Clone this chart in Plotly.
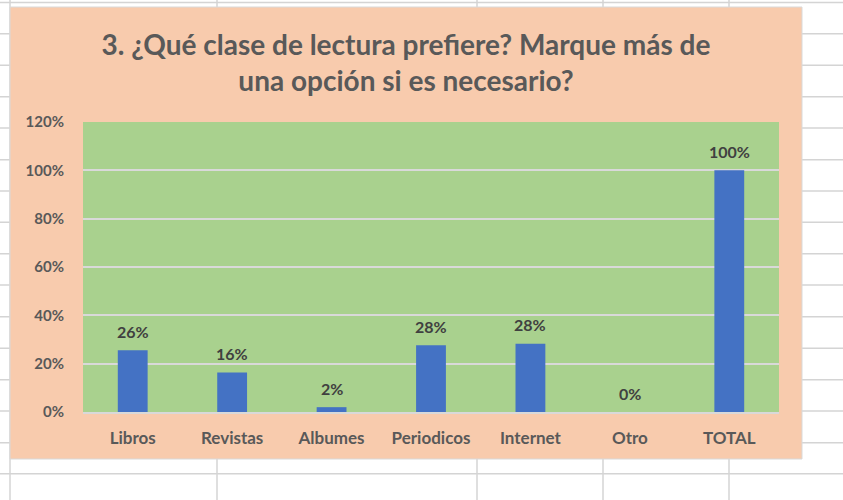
import plotly.graph_objects as go

# Data
categorias = ["Libros", "Revistas", "Albumes", "Periodicos", "Internet", "Otro", "TOTAL"]
porcentajes = [0.256, 0.163, 0.020, 0.276, 0.282, 0.0, 1.0]
etiquetas = ["26%", "16%", "2%", "28%", "28%", "0%", "100%"]
ticks_y = [0, 0.2, 0.4, 0.6, 0.8, 1.0, 1.2]
ticks_y_texto = ["0%", "20%", "40%", "60%", "80%", "100%", "120%"]

W, H = 843, 500
L, R, T, B = 83, 64, 122, 88
PW, PH = W - L - R, H - T - B

FONT = "Lato, 'Open Sans', sans-serif"
GRIS = "#595959"


def px(x):
    return (x - L) / PW


def py(y):
    return (H - B - y) / PH


shapes = []
# spreadsheet grid behind the chart object
for yy in [2.5, 33.7, 65.3, 96.7, 128, 159.7, 191, 222.3, 253.7, 285, 316.7,
           348.3, 379.7, 411, 442.7, 473.7]:
    shapes.append(dict(type="line", xref="paper", yref="paper", layer="below",
                       x0=px(0), x1=px(W), y0=py(yy), y1=py(yy),
                       line=dict(color="#d4d4d4", width=1.5)))
for xx in [10, 217, 477, 603, 729]:
    shapes.append(dict(type="line", xref="paper", yref="paper", layer="below",
                       x0=px(xx), x1=px(xx), y0=py(0), y1=py(H),
                       line=dict(color="#d4d4d4", width=1.5)))
# chart area (peach) and plot area (green)
shapes.append(dict(type="rect", xref="paper", yref="paper", layer="below",
                   x0=px(10), x1=px(802), y0=py(7), y1=py(459),
                   fillcolor="#f8cbad", line=dict(color="#d9d9d9", width=1)))
shapes.append(dict(type="rect", xref="paper", yref="paper", layer="below",
                   x0=0, x1=1, y0=0, y1=1,
                   fillcolor="#a9d18e", line=dict(width=0)))

fig = go.Figure(go.Bar(
    x=categorias,
    y=porcentajes,
    marker_color="#4472c4",
    marker_line_width=0,
    hoverinfo="skip",
))

# data labels
for c, v, t in zip(categorias, porcentajes, etiquetas):
    fig.add_annotation(x=c, y=v, text=f"<b>{t}</b>", showarrow=False,
                       yanchor="middle", yshift=19,
                       font=dict(family=FONT, size=16, color="#404040"))

fig.update_layout(
    width=W, height=H,
    margin=dict(l=L, r=R, t=T, b=B),
    paper_bgcolor="white",
    plot_bgcolor="rgba(0,0,0,0)",
    bargap=0.7,
    showlegend=False,
    shapes=shapes,
    title=dict(
        text="<b>3. ¿Qué clase de lectura prefiere? Marque más de<br>una opción si es necesario?</b>",
        x=px(406), xref="paper", xanchor="center",
        y=1 - 55 / H, yref="container", yanchor="middle",
        font=dict(family=FONT, size=28, color=GRIS),
    ),
    font=dict(family=FONT, color=GRIS),
)
fig.update_xaxes(
    showgrid=False, showline=True, linecolor="#d9d9d9", linewidth=1.5,
    ticks="", ticklabelstandoff=10,
    tickfont=dict(family=FONT, size=17, color=GRIS, weight="bold"),
)
fig.update_yaxes(
    range=[0, 1.2], tickvals=ticks_y, ticktext=ticks_y_texto,
    showgrid=True, gridcolor="#d9d9d9", gridwidth=1.5,
    zeroline=False, showline=False, ticks="", ticklabelstandoff=18,
    tickfont=dict(family=FONT, size=15, color=GRIS, weight="bold"),
)

# page has a default 8px body margin; drop it so the figure fills the window
fig.write_html("out.html", config={"displayModeBar": False},
               post_script="document.body.style.margin='0';")
